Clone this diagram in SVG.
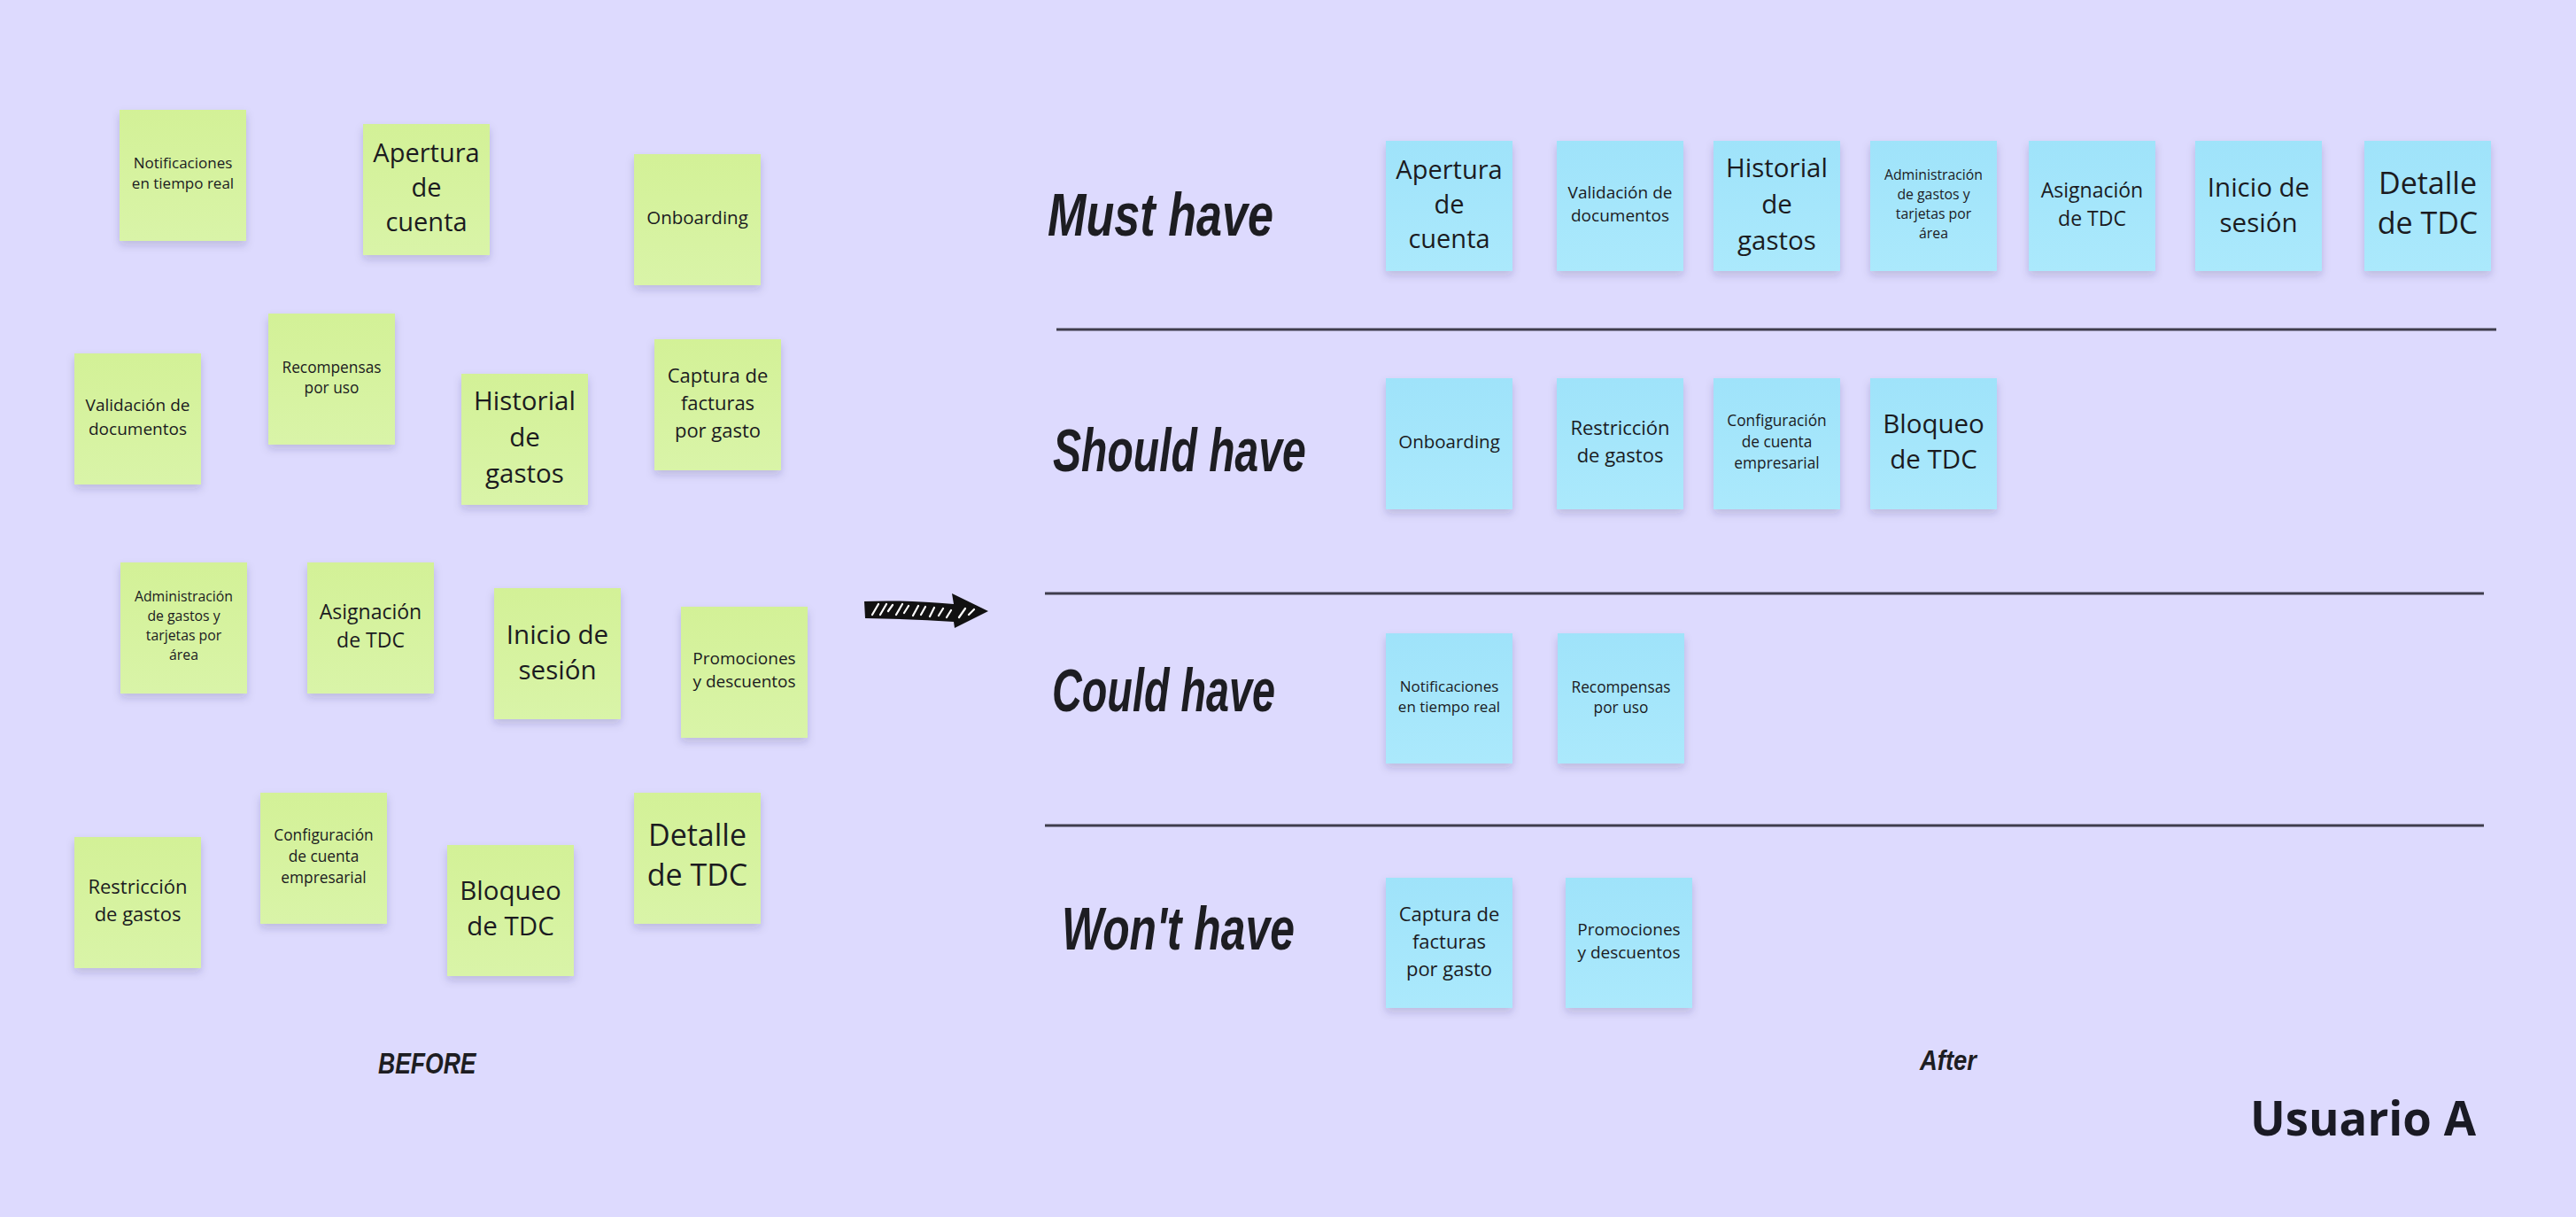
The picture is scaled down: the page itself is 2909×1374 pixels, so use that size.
<svg xmlns="http://www.w3.org/2000/svg" width="2909" height="1374" viewBox="0 0 2909 1374">
<style>
  .g { fill: url(#gGreen); filter: url(#sh); }
  .b { fill: url(#gBlue); filter: url(#sh); }
  .t { font-family: "Open Sans", "Liberation Sans", sans-serif; fill: #1b1b1f; text-anchor: middle; }
  .h { font-family: "Liberation Sans", "DejaVu Sans", sans-serif; font-style: italic; font-weight: bold; fill: #1d1d22; }
  .div { stroke: #3f3d4c; stroke-width: 3; }
  .hatch { stroke: #ffffff; stroke-width: 2.2; stroke-linecap: round; fill: none; }
</style>
<defs>
  <linearGradient id="gGreen" x1="0" y1="0" x2="0" y2="1">
    <stop offset="0" stop-color="#d3f197"/>
    <stop offset="1" stop-color="#d9f4a8"/>
  </linearGradient>
  <linearGradient id="gBlue" x1="0" y1="0" x2="0" y2="1">
    <stop offset="0" stop-color="#9fe3fa"/>
    <stop offset="1" stop-color="#abe9fc"/>
  </linearGradient>
  <filter id="sh" x="-20%" y="-20%" width="140%" height="150%">
    <feDropShadow dx="0" dy="5" stdDeviation="5" flood-color="#2a2450" flood-opacity="0.18"/>
  </filter>
</defs>
<rect x="0" y="0" width="2909" height="1374" fill="#dddafe"/>

<!-- BEFORE notes (green) -->
<g id="before-notificaciones"><rect class="g" x="135" y="124" width="143" height="148"/>
  <text class="t" font-size="17" x="206.5" y="190">Notificaciones</text><text class="t" font-size="17" x="206.5" y="213">en tiempo real</text></g>
<g id="before-apertura"><rect class="g" x="410" y="140" width="143" height="148"/>
  <text class="t" font-size="29" x="481.5" y="183">Apertura</text><text class="t" font-size="29" x="481.5" y="222">de</text><text class="t" font-size="29" x="481.5" y="261">cuenta</text></g>
<g id="before-onboarding"><rect class="g" x="716" y="174" width="143" height="148"/>
  <text class="t" font-size="20.5" x="787.5" y="253">Onboarding</text></g>
<g id="before-validacion"><rect class="g" x="84" y="399" width="143" height="148"/>
  <text class="t" font-size="19" x="155.5" y="464">Validación de</text><text class="t" font-size="19" x="155.5" y="491">documentos</text></g>
<g id="before-recompensas"><rect class="g" x="303" y="354" width="143" height="148"/>
  <text class="t" font-size="17.3" x="374.5" y="421">Recompensas</text><text class="t" font-size="17.3" x="374.5" y="444">por uso</text></g>
<g id="before-historial"><rect class="g" x="521" y="422" width="143" height="148"/>
  <text class="t" font-size="29.5" x="592.5" y="463">Historial</text><text class="t" font-size="29.5" x="592.5" y="504">de</text><text class="t" font-size="29.5" x="592.5" y="545">gastos</text></g>
<g id="before-captura"><rect class="g" x="739" y="383" width="143" height="148"/>
  <text class="t" font-size="22" x="810.5" y="432">Captura de</text><text class="t" font-size="22" x="810.5" y="463">facturas</text><text class="t" font-size="22" x="810.5" y="494">por gasto</text></g>
<g id="before-administracion"><rect class="g" x="136" y="635" width="143" height="148"/>
  <text class="t" font-size="15.8" x="207.5" y="679">Administración</text><text class="t" font-size="15.8" x="207.5" y="701">de gastos y</text><text class="t" font-size="15.8" x="207.5" y="723">tarjetas por</text><text class="t" font-size="15.8" x="207.5" y="745">área</text></g>
<g id="before-asignacion"><rect class="g" x="347" y="635" width="143" height="148"/>
  <text class="t" font-size="23" x="418.5" y="699">Asignación</text><text class="t" font-size="23" x="418.5" y="731">de TDC</text></g>
<g id="before-inicio"><rect class="g" x="558" y="664" width="143" height="148"/>
  <text class="t" font-size="29.5" x="629.5" y="727">Inicio de</text><text class="t" font-size="29.5" x="629.5" y="767">sesión</text></g>
<g id="before-promociones"><rect class="g" x="769" y="685" width="143" height="148"/>
  <text class="t" font-size="19" x="840.5" y="750">Promociones</text><text class="t" font-size="19" x="840.5" y="776">y descuentos</text></g>
<g id="before-restriccion"><rect class="g" x="84" y="945" width="143" height="148"/>
  <text class="t" font-size="22" x="155.5" y="1009">Restricción</text><text class="t" font-size="22" x="155.5" y="1040">de gastos</text></g>
<g id="before-configuracion"><rect class="g" x="294" y="895" width="143" height="148"/>
  <text class="t" font-size="17.3" x="365.5" y="949">Configuración</text><text class="t" font-size="17.3" x="365.5" y="973">de cuenta</text><text class="t" font-size="17.3" x="365.5" y="997">empresarial</text></g>
<g id="before-bloqueo"><rect class="g" x="505" y="954" width="143" height="148"/>
  <text class="t" font-size="29.5" x="576.5" y="1016">Bloqueo</text><text class="t" font-size="29.5" x="576.5" y="1056">de TDC</text></g>
<g id="before-detalle"><rect class="g" x="716" y="895" width="143" height="148"/>
  <text class="t" font-size="34" x="787.5" y="955">Detalle</text><text class="t" font-size="34" x="787.5" y="1000">de TDC</text></g>

<!-- Headings -->
<g id="heading-must" transform="translate(1183,266) scale(0.767,1)"><text class="h" font-size="68" x="0" y="0">Must have</text></g>
<g id="heading-should" transform="translate(1189,532) scale(0.707,1)"><text class="h" font-size="68" x="0" y="0">Should have</text></g>
<g id="heading-could" transform="translate(1188,803) scale(0.688,1)"><text class="h" font-size="68" x="0" y="0">Could have</text></g>
<g id="heading-wont" transform="translate(1199,1072) scale(0.733,1)"><text class="h" font-size="68" x="0" y="0">Won't have</text></g>

<!-- Dividers -->
<g id="dividers">
  <line class="div" x1="1193" y1="372" x2="2819" y2="372"/>
  <line class="div" x1="1180" y1="670" x2="2805" y2="670"/>
  <line class="div" x1="1180" y1="932" x2="2805" y2="932"/>
</g>

<!-- AFTER notes (blue) -->
<g id="must-apertura"><rect class="b" x="1565" y="159" width="143" height="147"/>
  <text class="t" font-size="29" x="1636.5" y="202">Apertura</text><text class="t" font-size="29" x="1636.5" y="241">de</text><text class="t" font-size="29" x="1636.5" y="280">cuenta</text></g>
<g id="must-validacion"><rect class="b" x="1758" y="159" width="143" height="147"/>
  <text class="t" font-size="19" x="1829.5" y="224">Validación de</text><text class="t" font-size="19" x="1829.5" y="250">documentos</text></g>
<g id="must-historial"><rect class="b" x="1935" y="159" width="143" height="147"/>
  <text class="t" font-size="29.5" x="2006.5" y="200">Historial</text><text class="t" font-size="29.5" x="2006.5" y="241">de</text><text class="t" font-size="29.5" x="2006.5" y="282">gastos</text></g>
<g id="must-administracion"><rect class="b" x="2112" y="159" width="143" height="147"/>
  <text class="t" font-size="15.8" x="2183.5" y="203">Administración</text><text class="t" font-size="15.8" x="2183.5" y="225">de gastos y</text><text class="t" font-size="15.8" x="2183.5" y="247">tarjetas por</text><text class="t" font-size="15.8" x="2183.5" y="269">área</text></g>
<g id="must-asignacion"><rect class="b" x="2291" y="159" width="143" height="147"/>
  <text class="t" font-size="23" x="2362.5" y="223">Asignación</text><text class="t" font-size="23" x="2362.5" y="255">de TDC</text></g>
<g id="must-inicio"><rect class="b" x="2479" y="159" width="143" height="147"/>
  <text class="t" font-size="29.5" x="2550.5" y="222">Inicio de</text><text class="t" font-size="29.5" x="2550.5" y="262">sesión</text></g>
<g id="must-detalle"><rect class="b" x="2670" y="159" width="143" height="147"/>
  <text class="t" font-size="34" x="2741.5" y="219">Detalle</text><text class="t" font-size="34" x="2741.5" y="264">de TDC</text></g>

<g id="should-onboarding"><rect class="b" x="1565" y="427" width="143" height="148"/>
  <text class="t" font-size="20.5" x="1636.5" y="506">Onboarding</text></g>
<g id="should-restriccion"><rect class="b" x="1758" y="427" width="143" height="148"/>
  <text class="t" font-size="22" x="1829.5" y="491">Restricción</text><text class="t" font-size="22" x="1829.5" y="522">de gastos</text></g>
<g id="should-configuracion"><rect class="b" x="1935" y="427" width="143" height="148"/>
  <text class="t" font-size="17.3" x="2006.5" y="481">Configuración</text><text class="t" font-size="17.3" x="2006.5" y="505">de cuenta</text><text class="t" font-size="17.3" x="2006.5" y="529">empresarial</text></g>
<g id="should-bloqueo"><rect class="b" x="2112" y="427" width="143" height="148"/>
  <text class="t" font-size="29.5" x="2183.5" y="489">Bloqueo</text><text class="t" font-size="29.5" x="2183.5" y="529">de TDC</text></g>

<g id="could-notificaciones"><rect class="b" x="1565" y="715" width="143" height="147"/>
  <text class="t" font-size="17" x="1636.5" y="781">Notificaciones</text><text class="t" font-size="17" x="1636.5" y="804">en tiempo real</text></g>
<g id="could-recompensas"><rect class="b" x="1759" y="715" width="143" height="147"/>
  <text class="t" font-size="17.3" x="1830.5" y="782">Recompensas</text><text class="t" font-size="17.3" x="1830.5" y="805">por uso</text></g>

<g id="wont-captura"><rect class="b" x="1565" y="991" width="143" height="147"/>
  <text class="t" font-size="22" x="1636.5" y="1040">Captura de</text><text class="t" font-size="22" x="1636.5" y="1071">facturas</text><text class="t" font-size="22" x="1636.5" y="1102">por gasto</text></g>
<g id="wont-promociones"><rect class="b" x="1768" y="991" width="143" height="147"/>
  <text class="t" font-size="19" x="1839.5" y="1056">Promociones</text><text class="t" font-size="19" x="1839.5" y="1082">y descuentos</text></g>

<!-- Connectors: hand-drawn arrow -->
<g id="connectors">
  <path d="M976,679 Q1020,677 1077,682 L1075,670 L1116,690 L1078,709 L1077,702 Q1030,699 977,698 Z" fill="#111111"/>
  <path class="hatch" d="M985,694 L992,682 M994,694 L1001,682 M1003,690 L1008,683 M1012,694 L1019,682 M1021,692 L1026,684 M1031,695 L1037,684 M1040,694 L1045,685 M1050,696 L1055,686 M1060,695 L1065,687 M1069,697 L1074,689 M1083,697 L1090,687 M1094,694 L1100,688"/>
</g>

<!-- Footer labels -->
<g id="label-before" transform="translate(427,1212) scale(0.78,1)"><text class="h" font-size="34" x="0" y="0">BEFORE</text></g>
<g id="label-after" transform="translate(2168,1208) scale(0.885,1)"><text class="h" font-size="31" x="0" y="0">After</text></g>
<g id="label-usuario"><text x="2541" y="1282" font-family="'Open Sans', 'Liberation Sans', sans-serif" font-weight="bold" font-size="53" fill="#1a1a24" textLength="255" lengthAdjust="spacingAndGlyphs">Usuario A</text></g>
</svg>
